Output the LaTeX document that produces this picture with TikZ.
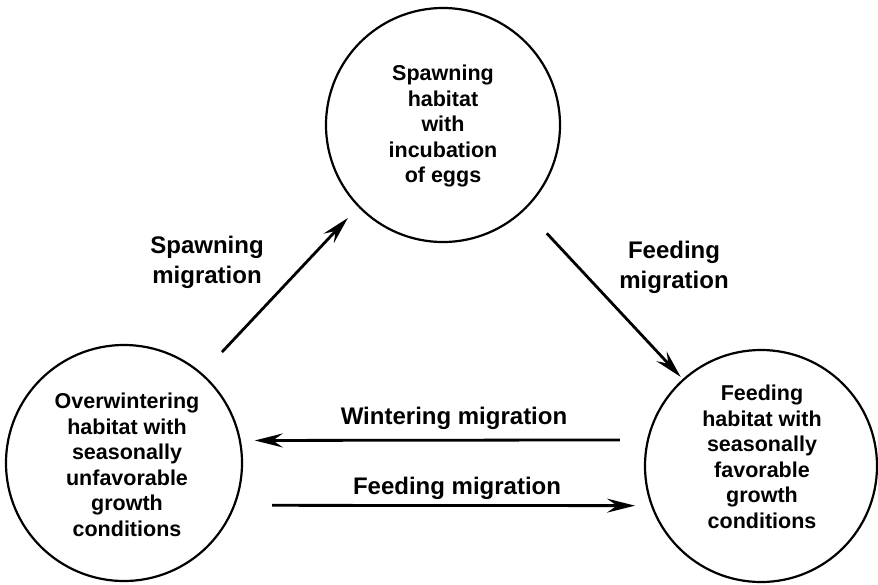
\documentclass[tikz,border=0pt]{standalone}
\usepackage{fontspec}
\setmainfont{Liberation Sans}
\usetikzlibrary{arrows.meta}
\begin{document}
\begin{tikzpicture}[x=1pt,y=-1pt,
  circ/.style={circle,draw=black,line width=2.2pt,inner sep=0pt,outer sep=0pt,minimum size=#1},
  ctext/.style={align=center,font=\bfseries\fontsize{21.5}{25.5}\selectfont,inner sep=0pt},
  lab/.style={align=center,font=\bfseries\fontsize{24}{30}\selectfont,inner sep=0pt},
  arr/.style={line width=2.8pt,-{Stealth[length=28pt,width=14pt,inset=10pt]}}]
\path[use as bounding box,fill=white] (0,0) rectangle (878,584);
\node[circ=234pt] (T) at (443,125) {};
\node[circ=236pt] (L) at (124,463) {};
\node[circ=232pt] (R) at (761,466) {};
\node[ctext] (Tt) at (443,126) {Spawning\\habitat\\with\\incubation\\of eggs};
\node[ctext] (Lt) at (127,465) {Overwintering\\habitat with\\seasonally\\unfavorable\\growth\\conditions};
\node[ctext] (Rt) at (762,457) {Feeding\\habitat with\\seasonally\\favorable\\growth\\conditions};
\draw[arr,shorten <=30pt,shorten >=16pt] (L.49.6) -- (T.224.4);
\draw[arr,shorten <=33pt,shorten >=4pt] (T.-46.1) -- (R.132.3);
\draw[arr,shorten <=28pt,shorten >=15pt] (R.167) -- (L.11.2);
\draw[arr,shorten <=38pt,shorten >=17pt] (L.-21.9) -- (R.200.7);
\node[lab] (l1) at (207,262) {Spawning\\migration};
\node[lab] (l2) at (674,267) {Feeding\\migration};
\node[lab] (l3) at (454,418) {Wintering migration};
\node[lab] (l4) at (457,488) {Feeding migration};
\end{tikzpicture}
\end{document}
